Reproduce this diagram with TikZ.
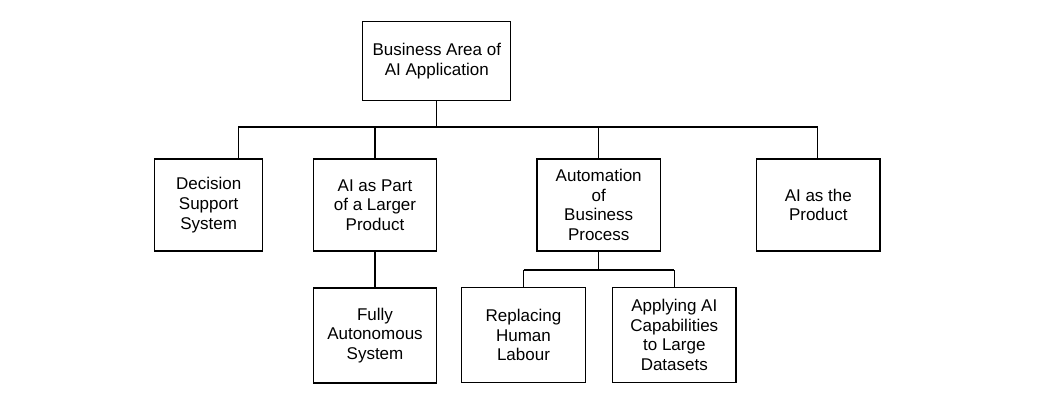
\documentclass[tikz,border=0pt]{standalone}
\usepackage{fontspec}
\setmainfont{Liberation Sans}
\begin{document}
\begin{tikzpicture}[x=1pt,y=-1pt,
  box/.style={draw=black,line width=1.2pt,fill=white,align=center,inner sep=0pt,
    font=\fontsize{17}{19.7}\selectfont},
  link/.style={draw=black,line width=1.2pt}]
\useasboundingbox (0,0) rectangle (1048,402);
\node[box,minimum width=148pt,minimum height=79pt] (root) at (436.8,61) {Business Area of\\AI Application};
\node[box,minimum width=108pt,minimum height=92pt] (dss) at (208.7,205) {Decision\\Support\\System};
\node[box,minimum width=123.4pt,minimum height=92pt] (aipart) at (375,205) {AI as Part\\of a Larger\\Product};
\node[box,minimum width=123.3pt,minimum height=92pt] (auto) at (598.7,205) {Automation\\of\\Business\\Process};
\node[box,minimum width=123.3pt,minimum height=92pt] (aiprod) at (818.3,205) {AI as the\\Product};
\node[box,minimum width=123.4pt,minimum height=95pt] (fas) at (375,335.5) {Fully\\Autonomous\\System};
\node[box,minimum width=123.6pt,minimum height=95.4pt] (rhl) at (523.5,335) {Replacing\\Human\\Labour};
\node[box,minimum width=123.3pt,minimum height=95.4pt] (aac) at (674.3,335) {Applying AI\\Capabilities\\to Large\\Datasets};
\coordinate (busL) at (238.3,127);
\coordinate (busR) at (817.7,127);
\coordinate (subL) at (523.5,270);
\coordinate (subR) at (674.3,270);
\draw[link] (root.south) -- (root.south |- busL);
\draw[link] (busL) -- (busR);
\draw[link] (busL) -- (busL |- dss.north);
\draw[link] (aipart.north) -- (aipart.north |- busL);
\draw[link] (auto.north) -- (auto.north |- busL);
\draw[link] (busR) -- (busR |- aiprod.north);
\draw[link] (aipart.south) -- (fas.north);
\draw[link] (auto.south) -- (auto.south |- subL);
\draw[link] (subL) -- (subR);
\draw[link] (subL) -- (rhl.north);
\draw[link] (subR) -- (aac.north);
\end{tikzpicture}
\end{document}
